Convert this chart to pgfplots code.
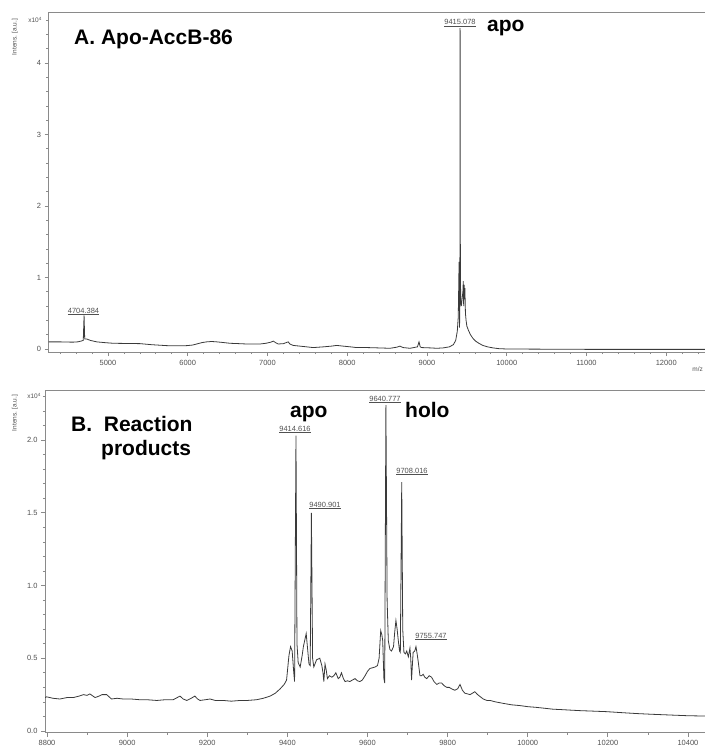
\documentclass[border=0pt]{standalone}
\usepackage{fontspec}
\setmainfont{Liberation Sans}
\usepackage{pgfplots}
\pgfplotsset{compat=1.18}
\definecolor{axgray}{HTML}{8A8A8A}
\definecolor{lblgray}{HTML}{505050}
\definecolor{spec}{HTML}{3A3A3A}
\pgfplotsset{msaxis/.style={
  scale only axis,
  anchor=south west,
  axis line style={axgray, line width=1pt},
  tick pos=left,
  tick align=outside,
  major tick length=4pt,
  minor tick length=2.2pt,
  every tick/.style={axgray, line width=0.7pt},
  ticklabel style={font=\fontsize{7.5}{8}\selectfont, text=lblgray},
  scaled x ticks=false,
  scaled y ticks=false,
  /pgf/number format/assume math mode=true,
  /pgf/number format/set thousands separator={},
  xticklabel style={yshift=-0.5pt},
}}
\newcommand{\pk}[1]{\fontsize{7.5}{8}\selectfont\color{lblgray}\underline{#1}}
\begin{document}
\begin{tikzpicture}
% ---------------- Panel A ----------------
\begin{axis}[msaxis,
  at={(48.5pt,-352pt)}, width=671.5pt, height=339pt,
  xmin=4254, xmax=12674, ymin=-0.042, ymax=4.70,
  xtick={5000,6000,...,12000},
  minor xtick={4400,4600,...,12600},
  ytick={0,1,2,3,4},
  minor ytick={0.2,0.4,0.6,0.8,1.2,1.4,1.6,1.8,2.2,2.4,2.6,2.8,3.2,3.4,3.6,3.8,4.2,4.4,4.6},
]
\addplot[spec, line width=0.8pt] coordinates {
(4254,0.10) (4300,0.10) (4398,0.10) (4480,0.097) (4565,0.096) (4620,0.10) (4660,0.11)
(4690,0.12) (4700,0.47) (4708,0.14) (4733,0.14) (4780,0.12) (4858,0.10) (4950,0.09)
(5066,0.08) (5200,0.078) (5401,0.075) (5550,0.06) (5736,0.047) (5870,0.045) (5987,0.047)
(6060,0.055) (6112,0.07) (6180,0.09) (6238,0.10) (6300,0.105) (6363,0.10) (6450,0.09)
(6530,0.08) (6640,0.075) (6739,0.07) (6820,0.07) (6906,0.07) (6980,0.08) (7040,0.095)
(7073,0.11) (7100,0.09) (7136,0.07) (7200,0.075) (7260,0.10) (7280,0.07) (7323,0.05)
(7450,0.035) (7574,0.02) (7700,0.03) (7800,0.04) (7868,0.05) (7950,0.04) (8040,0.03)
(8118,0.02) (8250,0.02) (8400,0.015) (8536,0.01) (8620,0.025) (8661,0.04) (8700,0.02)
(8787,0.01) (8880,0.03) (8900,0.10) (8915,0.03) (8933,0.02) (9050,0.015) (9122,0.01)
(9200,0.015) (9280,0.03) (9330,0.06) (9360,0.12) (9380,0.25) (9392,0.45) (9398,0.9)
(9402,1.22) (9406,1.0) (9408,0.3) (9412,0.6) (9415,4.49) (9418,1.5) (9422,0.7)
(9430,0.6) (9440,0.7) (9450,0.8) (9455,0.95) (9460,0.6) (9465,0.9) (9470,0.7)
(9475,0.85) (9482,0.5) (9490,0.4) (9500,0.32) (9520,0.26) (9545,0.2) (9575,0.15)
(9610,0.11) (9650,0.08) (9700,0.05) (9760,0.03) (9830,0.015) (9900,0.005) (10000,0.0)
(11000,-0.005) (12674,-0.005)
};
\end{axis}
% ---------------- Panel B ----------------
\begin{axis}[msaxis,
  at={(45pt,-732.5pt)}, width=675pt, height=342.5pt,
  xmin=8795, xmax=10480, ymin=-0.0103, ymax=2.344,
  xtick={8800,9000,...,10400},
  minor xtick={8900,9100,...,10500},
  ytick={0,0.5,1.0,1.5,2.0},
  minor ytick={0.1,0.2,0.3,0.4,0.6,0.7,0.8,0.9,1.1,1.2,1.3,1.4,1.6,1.7,1.8,1.9,2.1,2.2,2.3},
  yticklabel style={/pgf/number format/.cd, fixed, fixed zerofill, precision=1},
  xticklabel style={yshift=0.5pt},
]
\addplot[spec, line width=0.8pt] coordinates {
(8795,0.23) (8799,0.235) (8815,0.225) (8832,0.22) (8850,0.23) (8866,0.23) (8880,0.24)
(8891,0.25) (8900,0.245) (8907,0.255) (8920,0.23) (8930,0.24) (8937,0.25) (8949,0.25)
(8961,0.22) (8975,0.225) (8990,0.22) (9010,0.22) (9032,0.215) (9050,0.215) (9074,0.21)
(9095,0.215) (9115,0.215) (9132,0.24) (9140,0.22) (9149,0.21) (9160,0.225) (9169,0.24)
(9176,0.22) (9182,0.21) (9195,0.215) (9207,0.22) (9220,0.21) (9240,0.21) (9260,0.205)
(9282,0.21) (9300,0.21) (9323,0.215) (9340,0.225) (9357,0.24) (9370,0.26) (9382,0.29)
(9392,0.32) (9398,0.35) (9404,0.52) (9408,0.58) (9412,0.55) (9416,0.40) (9418,0.34)
(9421.5,2.03) (9424,0.6) (9427,0.47) (9432,0.44) (9437,0.52) (9440,0.58) (9447,0.67)
(9451,0.55) (9454,0.46) (9457,0.45) (9460,1.50) (9463,0.5) (9466,0.44) (9473,0.49)
(9481,0.50) (9486,0.45) (9489,0.40) (9491,0.34) (9494,0.46) (9497,0.42) (9500,0.36)
(9505,0.38) (9511,0.37) (9516,0.38) (9521,0.40) (9527,0.36) (9531,0.37) (9535,0.40)
(9540,0.36) (9544,0.34) (9550,0.345) (9556,0.34) (9562,0.35) (9569,0.36) (9575,0.345)
(9581,0.34) (9587,0.35) (9594,0.38) (9600,0.41) (9606,0.43) (9613,0.435) (9619,0.44)
(9625,0.45) (9629,0.50) (9633,0.69) (9636,0.66) (9638,0.62) (9641,0.36) (9643,0.33)
(9646,2.24) (9649,0.9) (9652,0.62) (9656,0.56) (9660,0.55) (9665,0.58) (9668,0.68)
(9671,0.76) (9674,0.70) (9677,0.62) (9680,0.55) (9682,0.54) (9685.5,1.71) (9688,0.7)
(9691,0.54) (9695,0.53) (9698,0.55) (9702,0.51) (9706,0.57) (9708,0.50) (9710,0.35)
(9712,0.45) (9714,0.54) (9718,0.55) (9721,0.58) (9724,0.53) (9727,0.47) (9731,0.38)
(9735,0.38) (9739,0.39) (9743,0.37) (9748,0.36) (9754,0.38) (9760,0.37) (9766,0.34)
(9773,0.32) (9779,0.33) (9785,0.33) (9792,0.31) (9798,0.30) (9804,0.30) (9810,0.29)
(9818,0.28) (9825,0.29) (9831,0.32) (9837,0.28) (9843,0.26) (9850,0.255) (9856,0.25)
(9862,0.26) (9868,0.27) (9875,0.25) (9882,0.235) (9889,0.22) (9898,0.21) (9906,0.21)
(9920,0.20) (9939,0.19) (9960,0.18) (9980,0.175) (10001,0.167) (10020,0.163)
(10040,0.157) (10063,0.15) (10085,0.147) (10110,0.143) (10131,0.14) (10160,0.137)
(10197,0.133) (10230,0.127) (10272,0.12) (10310,0.115) (10355,0.11) (10400,0.105)
(10440,0.103) (10480,0.10)
};
\end{axis}
% ---------------- texts ----------------
\begin{scope}[every node/.style={inner sep=0pt}]
% panel A
\node[anchor=base west] at (74pt,-45pt) {\bfseries\fontsize{21}{24}\selectfont A. Apo-AccB-86};
\node[anchor=base west] at (487pt,-32pt) {\bfseries\fontsize{21}{24}\selectfont apo};
\node[anchor=base] at (460pt,-25pt) {\pk{9415.078}};
\node[anchor=base] at (83.5pt,-313pt) {\pk{4704.384}};
\node[anchor=east] at (42pt,-20pt) {\fontsize{6.5}{7}\selectfont\color{lblgray}x10\textsuperscript{4}};
\node[rotate=90] at (15pt,-37pt) {\fontsize{6.5}{7}\selectfont\color{lblgray}Intens. [a.u.]};
\node[anchor=east] at (703pt,-369pt) {\fontsize{6.5}{7}\selectfont\color{lblgray}m/z};
% panel B
\node[anchor=base west] at (71pt,-431pt) {\bfseries\fontsize{21}{24}\selectfont B.\ \ Reaction};
\node[anchor=base west] at (101pt,-455pt) {\bfseries\fontsize{21}{24}\selectfont products};
\node[anchor=base west] at (290pt,-417pt) {\bfseries\fontsize{21}{24}\selectfont apo};
\node[anchor=base west] at (405pt,-417pt) {\bfseries\fontsize{21}{24}\selectfont holo};
\node[anchor=base] at (295pt,-431pt) {\pk{9414.616}};
\node[anchor=base] at (325pt,-507pt) {\pk{9490.901}};
\node[anchor=base] at (385pt,-401pt) {\pk{9640.777}};
\node[anchor=base] at (412pt,-473pt) {\pk{9708.016}};
\node[anchor=base] at (431pt,-638pt) {\pk{9755.747}};
\node[anchor=east] at (41pt,-396pt) {\fontsize{6.5}{7}\selectfont\color{lblgray}x10\textsuperscript{4}};
\node[rotate=90] at (15pt,-413pt) {\fontsize{6.5}{7}\selectfont\color{lblgray}Intens. [a.u.]};
\end{scope}
\pgfresetboundingbox
\path[use as bounding box] (0pt,0pt) rectangle (704pt,-746pt);
\end{tikzpicture}
\end{document}
